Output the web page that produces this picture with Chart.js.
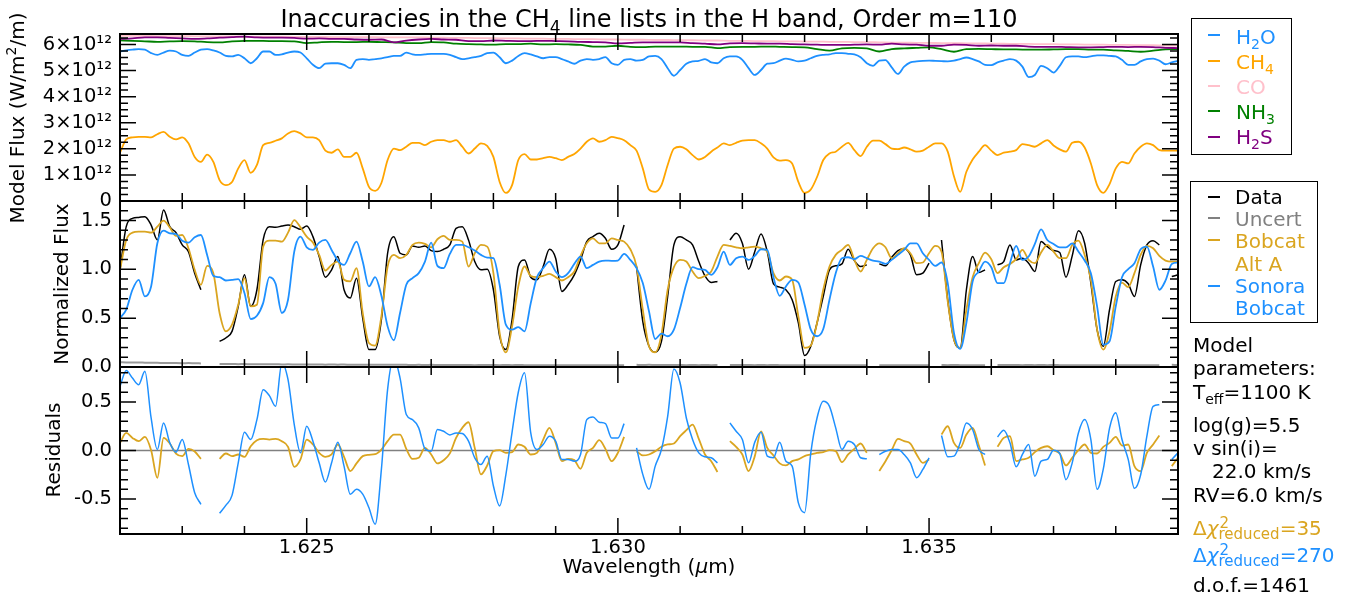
<!DOCTYPE html>
<html>
<head>
<meta charset="utf-8">
<title>CH4 line lists, H band, order 110</title>
<script src="https://cdn.jsdelivr.net/npm/chart.js@4.4.1/dist/chart.umd.min.js"></script>
<style>
  body { margin: 0; width: 1347px; height: 598px; position: relative; overflow: hidden; background: #fff;
         font-family: 'DejaVu Sans', sans-serif; color: #000; }
  canvas { position: absolute; left: 0; }
  .txt { position: absolute; font-size: 20px; line-height: 24px; white-space: nowrap; }
  .sb { position: relative; font-size: 14px; top: 5px; }
  .sp { position: relative; font-size: 14px; top: -9px; }
  .stk { position: relative; display: inline-block; }
  .stk .up { position: absolute; left: 1px; top: -5px; font-size: 15px; }
  .stk .lo { position: relative; top: 4px; font-size: 15px; }
  .box { position: absolute; border: 1.5px solid #000; box-sizing: border-box; }
  .dash { position: absolute; left: 1208px; width: 12px; height: 2px; }
  .ytitle { position: absolute; width: 300px; text-align: center; font-size: 20px; line-height: 24px;
            white-space: nowrap; transform: rotate(-90deg); }
</style>
</head>
<body>
<canvas id="fluxChart" width="1347" height="207" style="top:14px"></canvas>
<canvas id="normChart" width="1347" height="206" style="top:181px"></canvas>
<canvas id="residChart" width="1347" height="251" style="top:347px"></canvas>

<div class="txt" style="left:120px; width:1058px; text-align:center; top:5px; font-size:24px; line-height:28px">Inaccuracies in the CH<span class="sb" style="font-size:17px; top:6px">4</span> line lists in the H band, Order m=110</div>

<div class="ytitle" style="left:-132px; top:105px">Model Flux (W/m<span class="sp" style="top:-8px">2</span>/m)</div>
<div class="ytitle" style="left:-89px; top:272px">Normalized Flux</div>
<div class="ytitle" style="left:-97px; top:438px">Residuals</div>
<div class="txt" style="left:120px; width:1058px; text-align:center; top:554px">Wavelength (<i>μ</i>m)</div>

<!-- molecule legend -->
<div class="box" style="left:1191px; top:18px; width:101px; height:137px"></div>
<div class="dash" style="top:34px; background:#1E90FF"></div>
<div class="dash" style="top:60px; background:#FFA500"></div>
<div class="dash" style="top:85px; background:#FFC0CB"></div>
<div class="dash" style="top:110px; background:#008000"></div>
<div class="dash" style="top:136px; background:#800080"></div>
<div class="txt" style="left:1236px; top:25px; color:#1E90FF">H<span class="sb">2</span>O</div>
<div class="txt" style="left:1236px; top:50px; color:#FFA500">CH<span class="sb">4</span></div>
<div class="txt" style="left:1236px; top:75px; color:#FFC0CB">CO</div>
<div class="txt" style="left:1236px; top:100px; color:#008000">NH<span class="sb">3</span></div>
<div class="txt" style="left:1236px; top:125px; color:#800080">H<span class="sb">2</span>S</div>

<!-- model legend -->
<div class="box" style="left:1190px; top:181px; width:128px; height:142px"></div>
<div class="dash" style="top:196px; background:#000"></div>
<div class="dash" style="top:217px; background:#808080"></div>
<div class="dash" style="top:239px; background:#DAA520"></div>
<div class="dash" style="top:285px; background:#1E90FF"></div>
<div class="txt" style="left:1235px; top:185px">Data</div>
<div class="txt" style="left:1235px; top:207px; color:#808080">Uncert</div>
<div class="txt" style="left:1235px; top:229px; color:#DAA520">Bobcat</div>
<div class="txt" style="left:1235px; top:252px; color:#DAA520">Alt A</div>
<div class="txt" style="left:1235px; top:274px; color:#1E90FF">Sonora</div>
<div class="txt" style="left:1235px; top:296px; color:#1E90FF">Bobcat</div>

<!-- fit parameters -->
<div class="txt" style="left:1193px; top:333px">Model</div>
<div class="txt" style="left:1193px; top:356px">parameters:</div>
<div class="txt" style="left:1193px; top:380px">T<span class="sb">eff</span>=1100 K</div>
<div class="txt" style="left:1193px; top:413px">log(g)=5.5</div>
<div class="txt" style="left:1193px; top:436px">v sin(i)=</div>
<div class="txt" style="left:1212px; top:459px">22.0 km/s</div>
<div class="txt" style="left:1193px; top:483px">RV=6.0 km/s</div>
<div class="txt" style="left:1193px; top:516px; color:#DAA520">Δ<i>χ</i><span class="stk"><span class="up">2</span><span class="lo">reduced</span></span>=35</div>
<div class="txt" style="left:1193px; top:543px; color:#1E90FF">Δ<i>χ</i><span class="stk"><span class="up">2</span><span class="lo">reduced</span></span>=270</div>
<div class="txt" style="left:1193px; top:573px">d.o.f.=1461</div>

<script>
// wavelength grid (um) for the spectra and residuals
const wave = [
  1.6220, 1.6221, 1.6222, 1.6223, 1.6224, 1.6225, 1.6226, 1.6227, 1.6228, 1.6229,
  1.6230, 1.6231, 1.6232, 1.6233, 1.6234, 1.6235, 1.6236, 1.6237, 1.6238, 1.6239,
  1.6240, 1.6241, 1.6242, 1.6243, 1.6244, 1.6245, 1.6246, 1.6247, 1.6248, 1.6249,
  1.6250, 1.6251, 1.6252, 1.6253, 1.6254, 1.6255, 1.6256, 1.6257, 1.6258, 1.6259,
  1.6260, 1.6261, 1.6262, 1.6263, 1.6264, 1.6265, 1.6266, 1.6267, 1.6268, 1.6269,
  1.6270, 1.6271, 1.6272, 1.6273, 1.6274, 1.6275, 1.6276, 1.6277, 1.6278, 1.6279,
  1.6280, 1.6281, 1.6282, 1.6283, 1.6284, 1.6285, 1.6286, 1.6287, 1.6288, 1.6289,
  1.6290, 1.6291, 1.6292, 1.6293, 1.6294, 1.6295, 1.6296, 1.6297, 1.6298, 1.6299,
  1.6300, 1.6301, 1.6302, 1.6303, 1.6304, 1.6305, 1.6306, 1.6307, 1.6308, 1.6309,
  1.6310, 1.6311, 1.6312, 1.6313, 1.6314, 1.6315, 1.6316, 1.6317, 1.6318, 1.6319,
  1.6320, 1.6321, 1.6322, 1.6323, 1.6324, 1.6325, 1.6326, 1.6327, 1.6328, 1.6329,
  1.6330, 1.6331, 1.6332, 1.6333, 1.6334, 1.6335, 1.6336, 1.6337, 1.6338, 1.6339,
  1.6340, 1.6341, 1.6342, 1.6343, 1.6344, 1.6345, 1.6346, 1.6347, 1.6348, 1.6349,
  1.6350, 1.6351, 1.6352, 1.6353, 1.6354, 1.6355, 1.6356, 1.6357, 1.6358, 1.6359,
  1.6360, 1.6361, 1.6362, 1.6363, 1.6364, 1.6365, 1.6366, 1.6367, 1.6368, 1.6369,
  1.6370, 1.6371, 1.6372, 1.6373, 1.6374, 1.6375, 1.6376, 1.6377, 1.6378, 1.6379,
  1.6380, 1.6381, 1.6382, 1.6383, 1.6384, 1.6385, 1.6386, 1.6387, 1.6388, 1.6389,
  1.6390
];

// coarser grid for the nearly flat molecules
const waveCoarse = [
  1.6220, 1.6222, 1.6224, 1.6226, 1.6228, 1.6230, 1.6232, 1.6234, 1.6236, 1.6238,
  1.6240, 1.6242, 1.6244, 1.6246, 1.6248, 1.6250, 1.6252, 1.6254, 1.6256, 1.6258,
  1.6260, 1.6262, 1.6264, 1.6266, 1.6268, 1.6270, 1.6272, 1.6274, 1.6276, 1.6278,
  1.6280, 1.6282, 1.6284, 1.6286, 1.6288, 1.6290, 1.6292, 1.6294, 1.6296, 1.6298,
  1.6300, 1.6302, 1.6304, 1.6306, 1.6308, 1.6310, 1.6312, 1.6314, 1.6316, 1.6318,
  1.6320, 1.6322, 1.6324, 1.6326, 1.6328, 1.6330, 1.6332, 1.6334, 1.6336, 1.6338,
  1.6340, 1.6342, 1.6344, 1.6346, 1.6348, 1.6350, 1.6352, 1.6354, 1.6356, 1.6358,
  1.6360, 1.6362, 1.6364, 1.6366, 1.6368, 1.6370, 1.6372, 1.6374, 1.6376, 1.6378,
  1.6380, 1.6382, 1.6384, 1.6386, 1.6388, 1.6390
];

// model flux per molecule, units of 1e12 W/m^2/m
const h2oFlux = [
  5.73, 5.77, 5.80, 5.82, 5.80, 5.67, 5.60, 5.69, 5.76, 5.73,
  5.60, 5.56, 5.69, 5.80, 5.82, 5.77, 5.69, 5.56, 5.54, 5.60,
  5.47, 5.28, 5.47, 5.73, 5.73, 5.60, 5.62, 5.69, 5.73, 5.69,
  5.47, 5.22, 5.09, 5.26, 5.28, 5.28, 5.22, 5.09, 5.41, 5.44,
  5.41, 5.44, 5.47, 5.51, 5.56, 5.56, 5.69, 5.62, 5.60, 5.62,
  5.64, 5.64, 5.64, 5.60, 5.51, 5.44, 5.47, 5.51, 5.56, 5.67,
  5.69, 5.51, 5.28, 5.38, 5.56, 5.67, 5.62, 5.54, 5.47, 5.51,
  5.51, 5.44, 5.35, 5.26, 5.38, 5.44, 5.41, 5.44, 5.51, 5.28,
  5.22, 5.41, 5.44, 5.38, 5.41, 5.54, 5.56, 5.44, 5.09, 4.80,
  5.02, 5.26, 5.35, 5.37, 5.44, 5.31, 5.28, 5.47, 5.54, 5.54,
  5.41, 5.09, 4.83, 5.02, 5.26, 5.28, 5.38, 5.46, 5.41, 5.35,
  5.38, 5.47, 5.56, 5.60, 5.62, 5.67, 5.67, 5.64, 5.62, 5.51,
  5.28, 5.18, 5.38, 5.40, 5.12, 4.87, 5.15, 5.31, 5.35, 5.37,
  5.38, 5.37, 5.36, 5.35, 5.38, 5.44, 5.50, 5.44, 5.35, 5.22,
  5.21, 5.31, 5.38, 5.44, 5.38, 5.15, 4.75, 4.83, 5.18, 5.09,
  4.92, 5.18, 5.51, 5.54, 5.54, 5.51, 5.54, 5.58, 5.58, 5.56,
  5.54, 5.41, 5.22, 5.22, 5.35, 5.44, 5.46, 5.38, 5.24, 5.31,
  5.37
];
const ch4Flux = [
  1.85, 2.36, 2.44, 2.46, 2.46, 2.44, 2.56, 2.65, 2.46, 2.36,
  2.44, 2.21, 1.69, 1.50, 1.78, 1.50, 0.80, 0.61, 0.73, 1.25,
  1.57, 1.08, 1.38, 2.14, 2.23, 2.31, 2.40, 2.59, 2.68, 2.59,
  2.44, 2.44, 2.33, 1.93, 1.85, 1.98, 1.69, 1.69, 1.85, 1.25,
  0.54, 0.39, 0.69, 1.57, 2.01, 1.95, 2.08, 2.23, 2.23, 2.14,
  2.27, 2.33, 2.33, 2.27, 2.33, 2.08, 1.82, 2.01, 2.21, 2.11,
  1.69, 0.73, 0.31, 0.61, 1.57, 1.80, 1.59, 1.59, 1.64, 1.69,
  1.64, 1.57, 1.69, 1.80, 2.01, 2.27, 2.40, 2.27, 2.33, 2.46,
  2.41, 2.33, 2.14, 1.93, 1.25, 0.44, 0.35, 0.61, 1.38, 2.01,
  2.08, 1.98, 1.76, 1.59, 1.69, 1.89, 2.05, 2.21, 2.14, 2.23,
  2.31, 2.33, 2.33, 2.21, 2.01, 1.67, 1.55, 1.57, 1.44, 0.73,
  0.31, 0.44, 0.92, 1.57, 1.82, 1.89, 2.08, 2.23, 1.95, 1.72,
  2.08, 2.31, 2.31, 2.18, 2.01, 1.99, 2.05, 1.98, 1.89, 1.93,
  2.08, 2.21, 2.21, 1.89, 0.95, 0.35, 1.12, 1.59, 1.89, 2.14,
  1.93, 1.76, 1.85, 1.89, 1.95, 2.18, 2.14, 2.08, 2.21, 2.33,
  2.13, 1.98, 1.89, 2.23, 2.27, 2.05, 1.44, 0.61, 0.31, 0.65,
  1.25, 1.50, 1.44, 1.82, 2.08, 2.21, 2.14, 1.95, 1.93, 1.93,
  1.93
];
const coFlux = [
  6.33, 6.33, 6.33, 6.32, 6.32, 6.32, 6.31, 6.31, 6.31, 6.31,
  6.30, 6.30, 6.30, 6.30, 6.29, 6.29, 6.29, 6.28, 6.28, 6.28,
  6.28, 6.27, 6.27, 6.27, 6.27, 6.26, 6.26, 6.25, 6.25, 6.24,
  6.24, 6.23, 6.23, 6.22, 6.22, 6.21, 6.21, 6.20, 6.20, 6.19,
  6.19, 6.18, 6.18, 6.17, 6.17, 6.16, 6.16, 6.15, 6.15, 6.14,
  6.14, 6.13, 6.13, 6.12, 6.12, 6.11, 6.11, 6.10, 6.10, 6.09,
  6.09, 6.08, 6.07, 6.07, 6.06, 6.06, 6.05, 6.05, 6.04, 6.04,
  6.03, 6.03, 6.02, 6.02, 6.01, 6.01, 6.00, 6.00, 5.99, 5.99,
  5.98, 5.98, 5.97, 5.97, 5.96, 5.96
];
const nh3Flux = [
  6.155, 6.14, 6.12, 6.10, 6.12, 6.13, 6.12, 6.09, 6.08, 6.12,
  6.14, 6.14, 6.13, 6.13, 6.12, 6.05, 6.08, 6.10, 6.09, 6.09,
  6.10, 6.09, 6.08, 6.05, 6.05, 6.09, 6.08, 6.03, 6.01, 6.00,
  5.99, 6.01, 6.01, 6.03, 6.00, 6.01, 6.00, 5.98, 5.92, 5.92,
  5.95, 5.91, 5.90, 5.92, 5.92, 5.92, 5.91, 5.91, 5.86, 5.90,
  5.91, 5.91, 5.92, 5.91, 5.90, 5.89, 5.82, 5.76, 5.85, 5.87,
  5.85, 5.73, 5.82, 5.85, 5.87, 5.89, 5.82, 5.72, 5.82, 5.83,
  5.82, 5.81, 5.81, 5.80, 5.80, 5.81, 5.82, 5.82, 5.80, 5.80,
  5.77, 5.75, 5.72, 5.76, 5.81, 5.82
];
const h2sFlux = [
  6.21, 6.23, 6.27, 6.27, 6.25, 6.23, 6.21, 6.23, 6.26, 6.28,
  6.30, 6.27, 6.26, 6.26, 6.25, 6.22, 6.23, 6.21, 6.21, 6.19,
  6.18, 6.19, 6.08, 6.15, 6.19, 6.21, 6.19, 6.18, 6.13, 6.13,
  6.15, 6.14, 6.13, 6.13, 6.14, 6.13, 6.12, 6.10, 6.09, 6.08,
  6.04, 6.06, 6.08, 6.08, 6.08, 6.08, 6.05, 6.03, 6.00, 6.04,
  6.05, 6.04, 6.03, 6.03, 6.01, 6.00, 5.99, 5.98, 5.98, 5.99,
  6.00, 5.99, 6.03, 6.00, 5.99, 5.95, 5.95, 5.99, 5.98, 5.95,
  5.96, 5.95, 5.95, 5.92, 5.91, 5.91, 5.90, 5.89, 5.89, 5.90,
  5.91, 5.90, 5.91, 5.90, 5.87, 5.86
];

// normalized spectra
const observed = [
  0.995, 1.437, 1.522, 1.532, 1.539, 1.454, 1.301, 1.607, 1.437, 1.376,
  1.250, 1.182, 0.961, 0.791, null, null, 0.263, 0.297, 0.365, 0.621,
  0.944, 0.621, 0.791, 1.301, 1.437, 1.430, 1.444, 1.454, 1.437, 1.410,
  1.444, 1.335, 1.131, 0.920, 0.995, 1.131, 0.791, 0.706, 0.910, 0.501,
  0.178, 0.178, 0.485, 1.165, 1.335, 1.165, 1.148, 1.240, 1.226, 1.240,
  1.192, 1.182, 1.206, 1.250, 1.420, 1.437, 1.301, 1.080, 0.995, 1.002,
  0.791, 0.315, 0.178, 0.485, 1.029, 1.097, 0.920, 0.893, 1.029, 1.206,
  1.114, 0.774, 0.842, 0.944, 1.097, 1.284, 1.335, 1.369, 1.318, 1.206,
  1.250, 1.454, null, 1.029, 0.467, 0.213, 0.151, 0.263, 0.723, 1.250,
  1.335, 1.301, 1.250, 1.080, 0.933, 0.866, 0.876, null, 1.301, 1.369,
  1.267, 1.002, 1.182, 1.362, 1.182, 0.852, 0.818, 0.791, 0.689, 0.451,
  0.117, 0.213, 0.451, 0.723, 0.995, 1.036, 1.056, 1.206, 1.090, 1.029,
  1.046, null, 1.056, 1.036, 1.124, 1.192, 1.212, 1.148, 0.944, 0.961,
  1.063, null, 1.301, 0.689, 0.281, 0.195, 0.791, 1.131, 0.967, 0.995,
  null, 1.046, 1.080, 1.250, 1.097, 1.114, 1.063, 0.978, 1.284, 1.233,
  1.192, 1.172, 0.920, 1.138, 1.396, 1.267, 0.859, 0.382, 0.213, 0.587,
  0.876, 0.893, 0.852, 0.723, 1.046, 1.250, 1.294, 1.250, null, 0.927,
  0.944
];
const uncert = [
  0.048, 0.047, 0.045, 0.046, 0.044, 0.043, 0.043, 0.041, 0.042, 0.040,
  0.039, 0.040, 0.038, 0.037, null, null, 0.031, 0.030, 0.031, 0.029,
  0.030, 0.028, 0.029, 0.028, 0.027, 0.028, 0.026, 0.027, 0.026, 0.025,
  0.026, 0.025, 0.026, 0.024, 0.025, 0.024, 0.025, 0.023, 0.024, 0.023,
  0.024, 0.023, 0.022, 0.023, 0.022, 0.023, 0.022, 0.021, 0.022, 0.021,
  0.022, 0.021, 0.020, 0.021, 0.020, 0.021, 0.020, 0.019, 0.020, 0.021,
  0.020, 0.019, 0.020, 0.019, 0.020, 0.019, 0.018, 0.019, 0.018, 0.019,
  0.018, 0.019, 0.018, 0.017, 0.018, 0.017, 0.018, 0.017, 0.018, 0.017,
  0.018, 0.017, null, 0.022, 0.021, 0.022, 0.020, 0.021, 0.020, 0.021,
  0.020, 0.019, 0.020, 0.019, 0.020, 0.019, 0.020, null, 0.021, 0.020,
  0.021, 0.020, 0.019, 0.020, 0.019, 0.020, 0.019, 0.018, 0.019, 0.018,
  0.019, 0.018, 0.019, 0.018, 0.017, 0.018, 0.017, 0.018, 0.017, 0.018,
  0.017, null, 0.019, 0.018, 0.019, 0.018, 0.017, 0.018, 0.017, 0.018,
  0.017, null, 0.020, 0.019, 0.020, 0.019, 0.018, 0.019, 0.018, 0.019,
  null, 0.021, 0.020, 0.021, 0.020, 0.019, 0.020, 0.019, 0.020, 0.019,
  0.020, 0.019, 0.018, 0.019, 0.018, 0.019, 0.018, 0.017, 0.018, 0.017,
  0.018, 0.017, 0.018, 0.017, 0.018, 0.017, 0.018, 0.017, null, 0.022,
  0.021
];
const bobcatAltA = [
  0.995, 1.301, 1.376, 1.386, 1.386, 1.376, 1.437, 1.498, 1.430, 1.342,
  1.352, 1.216, 0.995, 0.842, 1.035, 0.961, 0.553, 0.365, 0.433, 0.638,
  0.910, 0.621, 0.638, 1.233, 1.294, 1.294, 1.284, 1.376, 1.505, 1.430,
  1.335, 1.274, 1.148, 0.988, 1.046, 1.080, 0.893, 0.876, 1.012, 0.553,
  0.246, 0.219, 0.518, 1.029, 1.148, 1.114, 1.148, 1.250, 1.274, 1.260,
  1.226, 1.308, 1.342, 1.301, 1.301, 1.284, 1.029, 1.165, 1.250, 1.233,
  0.961, 0.349, 0.150, 0.416, 0.825, 1.029, 0.933, 0.920, 0.933, 0.954,
  0.920, 0.886, 0.920, 0.978, 1.138, 1.267, 1.318, 1.267, 1.267, 1.318,
  1.301, 1.284, 1.206, 1.029, 0.587, 0.213, 0.151, 0.331, 0.791, 1.022,
  1.097, 1.080, 0.978, 0.910, 0.933, 0.978, 1.131, 1.250, 1.240, 1.226,
  1.216, 1.226, 1.233, 1.216, 1.182, 0.961, 0.886, 0.927, 0.893, 0.518,
  0.195, 0.219, 0.451, 0.791, 1.029, 1.148, 1.199, 1.250, 1.097, 0.978,
  1.097, 1.216, 1.267, 1.226, 1.114, 1.165, 1.216, 1.165, 1.063, 1.070,
  1.165, 1.240, 1.182, 0.672, 0.281, 0.195, 0.587, 0.920, 1.063, 1.172,
  1.104, 0.961, 1.022, 1.056, 1.104, 1.199, 1.097, 1.063, 1.172, 1.250,
  1.182, 1.114, 1.114, 1.250, 1.294, 1.148, 0.893, 0.382, 0.178, 0.365,
  0.723, 0.865, 0.818, 0.961, 1.148, 1.240, 1.216, 1.138, 1.090, 1.080,
  1.080
];
const sonoraBobcat = [
  0.501, 0.587, 0.791, 0.893, 0.723, 0.825, 1.267, 1.396, 1.369, 1.362,
  1.294, 1.274, 1.328, 1.352, 1.148, 0.933, 0.920, 0.886, 0.893, 0.899,
  0.757, 0.491, 0.525, 0.654, 0.920, 0.852, 0.553, 0.689, 1.182, 1.335,
  1.226, 1.199, 1.274, 1.301, 1.199, 1.090, 1.046, 1.165, 1.284, 1.080,
  0.825, 0.920, 0.729, 0.416, 0.274, 0.553, 0.842, 0.910, 0.961, 1.080,
  1.274, 1.036, 1.012, 1.158, 1.250, 1.250, 1.226, 1.192, 1.148, 1.121,
  1.114, 0.842, 0.433, 0.382, 0.409, 0.365, 0.654, 0.920, 1.012, 1.080,
  0.978, 0.920, 0.961, 1.056, 1.131, 1.012, 1.046, 1.080, 1.090, 1.087,
  1.090, 1.158, 1.097, 1.012, 0.859, 0.570, 0.287, 0.342, 0.315, 0.382,
  0.604, 0.852, 1.022, 1.002, 0.995, 0.944, 1.022, 1.182, 1.046, 1.114,
  1.131, 1.097, 1.138, 1.206, 1.199, 0.920, 0.729, 0.825, 0.893, 0.866,
  0.638, 0.382, 0.315, 0.389, 0.689, 0.961, 1.114, 1.124, 1.104, 1.138,
  1.114, 1.090, 1.080, 1.056, 1.097, 1.148, 1.199, 1.267, 1.267, 1.165,
  1.097, 1.036, 1.070, 0.859, 0.349, 0.185, 0.451, 0.876, 0.978, 1.080,
  1.022, 0.859, 0.859, 1.063, 1.240, 1.097, 1.131, 1.260, 1.409, 1.301,
  1.260, 1.226, 1.226, 1.267, 1.182, 1.090, 0.961, 0.621, 0.229, 0.263,
  0.621, 0.920, 1.002, 1.063, 1.206, 1.233, 1.029, 0.791, 0.886, 1.056,
  1.070
];

// data minus model
const residAltA = [
  0.079, 0.181, 0.130, 0.096, 0.140, 0.003, -0.281, 0.130, 0.072, -0.031,
  -0.058, 0.017, -0.010, -0.086, null, null, -0.086, -0.031, -0.058, -0.041,
  -0.065, 0.044, 0.106, 0.120, 0.113, 0.120, 0.096, 0.038, -0.168, -0.092,
  0.113, 0.062, -0.024, -0.065, -0.041, 0.062, -0.065, -0.212, -0.133, -0.058,
  -0.044, -0.038, 0.010, 0.096, 0.164, 0.164, 0.017, -0.086, -0.075, 0.027,
  -0.041, -0.133, -0.100, -0.030, 0.130, 0.233, 0.291, 0.027, -0.246, -0.154,
  -0.007, 0.003, -0.024, -0.017, 0.062, 0.038, -0.041, -0.024, 0.113, 0.233,
  0.079, -0.110, -0.086, -0.099, -0.188, -0.024, 0.027, 0.106, 0.017, -0.110,
  -0.024, 0.140, null, -0.007, -0.051, -0.041, -0.007, 0.038, 0.062, 0.072,
  0.147, 0.209, 0.267, 0.120, -0.041, -0.110, -0.222, null, 0.096, 0.038,
  -0.041, -0.212, -0.058, 0.198, 0.027, -0.051, -0.133, -0.154, -0.110, -0.092,
  -0.058, -0.041, -0.024, -0.017, 0.003, -0.007, -0.120, -0.041, 0.017, 0.072,
  -0.024, null, -0.212, -0.110, 0.003, 0.120, 0.096, 0.072, -0.041, -0.127,
  -0.092, null, 0.164, 0.250, 0.079, 0.027, 0.164, 0.233, 0.051, -0.154,
  null, 0.038, 0.130, 0.147, -0.110, -0.092, -0.075, -0.017, 0.027, 0.044,
  0.003, -0.031, -0.154, -0.075, 0.003, 0.062, -0.024, -0.031, 0.038, 0.079,
  0.140, 0.051, 0.062, -0.161, -0.212, -0.024, 0.062, 0.154, null, -0.161,
  -0.075
];
const residSonora = [
  0.660, 0.825, 0.746, 0.678, 0.815, 0.335, 0.010, 0.284, 0.079, -0.017,
  0.113, -0.144, -0.435, -0.554, null, null, -0.647, -0.565, -0.462, -0.127,
  0.188, 0.113, 0.318, 0.626, 0.565, 0.455, 0.900, 0.729, 0.267, -0.024,
  0.250, 0.096, -0.127, -0.325, -0.127, 0.086, -0.161, -0.450, -0.400, -0.450,
  -0.590, -0.760, -0.195, 0.630, 0.950, 0.746, 0.370, 0.318, 0.233, 0.017,
  -0.007, 0.216, 0.198, 0.160, 0.181, 0.175, 0.096, -0.075, -0.144, -0.058,
  -0.366, -0.572, -0.250, 0.190, 0.600, 0.800, 0.181, 0.010, 0.062, 0.147,
  0.096, -0.092, -0.092, -0.110, -0.041, 0.318, 0.346, 0.291, 0.277, 0.130,
  0.130, 0.277, null, 0.027, -0.246, -0.400, -0.161, 0.010, 0.352, 0.840,
  0.695, 0.335, 0.113, -0.024, -0.065, -0.075, -0.127, null, 0.284, 0.198,
  0.113, -0.127, 0.086, 0.188, -0.058, -0.075, 0.086, -0.110, -0.161, -0.540,
  -0.640, -0.024, 0.335, 0.507, 0.455, 0.233, 0.010, 0.096, 0.062, -0.075,
  -0.086, null, -0.041, -0.007, 0.010, 0.010, -0.041, -0.127, -0.280, -0.195,
  -0.075, null, 0.154, -0.065, -0.058, 0.079, 0.284, 0.216, 0.010, -0.041,
  null, 0.140, 0.209, 0.079, -0.168, -0.041, 0.062, -0.264, -0.110, -0.092,
  0.003, -0.031, -0.300, -0.127, 0.181, 0.318, 0.113, -0.400, -0.190, 0.230,
  0.390, 0.113, -0.092, -0.390, -0.250, 0.147, 0.455, 0.472, null, -0.092,
  -0.024
];
const zeroWave = [1.622, 1.639];
const zeroLevel = [0, 0];

// axis ticks
const waveLabels = [1.625, 1.630, 1.635];
const waveMinor = [1.622, 1.623, 1.624, 1.626, 1.627, 1.628, 1.629, 1.631, 1.632, 1.633, 1.634, 1.636, 1.637, 1.638, 1.639];
const fluxTicks = [0, 1, 2, 3, 4, 5, 6];
const normTicks = [0, 0.5, 1.0, 1.5];
const residTicks = [-0.5, 0, 0.5];

Chart.defaults.font.family = "'DejaVu Sans', sans-serif";
const tickFont = { size: 19.5 };

function points(xs, ys) {
  return xs.map((x, i) => ({ x: x, y: ys[i] }));
}

function series(label, xs, ys, color, width) {
  return {
    label: label,
    data: points(xs, ys),
    borderColor: color,
    borderWidth: width,
    pointRadius: 0,
    fill: false,
    spanGaps: false,
    cubicInterpolationMode: 'monotone'
  };
}

function steps(from, to, step) {
  const out = [];
  for (let v = from; v <= to + 1e-9; v += step) out.push(v);
  return out;
}

// box around each panel with inward ticks on all four sides
function frameTicks(yMajor, yMinor) {
  return {
    id: 'frameTicks',
    afterDatasetsDraw(chart) {
      const { ctx, chartArea: a, scales: { x, y } } = chart;
      ctx.save();
      ctx.strokeStyle = '#000';
      ctx.lineWidth = 1.5;
      ctx.beginPath();
      const xTick = (v, len) => {
        const px = x.getPixelForValue(v);
        ctx.moveTo(px, a.top); ctx.lineTo(px, a.top + len);
        ctx.moveTo(px, a.bottom); ctx.lineTo(px, a.bottom - len);
      };
      const yTick = (v, len) => {
        const py = y.getPixelForValue(v);
        ctx.moveTo(a.left, py); ctx.lineTo(a.left + len, py);
        ctx.moveTo(a.right, py); ctx.lineTo(a.right - len, py);
      };
      waveLabels.forEach(v => xTick(v, 16));
      waveMinor.forEach(v => xTick(v, 8));
      yMajor.forEach(v => yTick(v, 16));
      yMinor.forEach(v => yTick(v, 8));
      ctx.stroke();
      ctx.lineWidth = 2;
      ctx.strokeRect(a.left, a.top, a.right - a.left, a.bottom - a.top);
      ctx.restore();
    }
  };
}

function panelOptions(yMin, yMax, yTicks, yLabel, showX) {
  const xScale = {
    type: 'linear', min: 1.622, max: 1.639, display: showX,
    grid: { display: false, drawTicks: false }, border: { display: false },
    afterBuildTicks: s => { s.ticks = waveLabels.map(v => ({ value: v })); },
    ticks: { padding: 2, color: '#000', font: tickFont, maxRotation: 0, autoSkip: false,
             callback: v => v.toFixed(3) }
  };
  if (showX) xScale.afterFit = s => { s.height = 64; };
  return {
    responsive: false,
    animation: false,
    events: [],
    layout: { padding: { top: 20, bottom: showX ? 0 : 20, left: 0, right: 169 } },
    plugins: { legend: { display: false }, tooltip: { enabled: false } },
    scales: {
      x: xScale,
      y: {
        type: 'linear', min: yMin, max: yMax,
        grid: { display: false, drawTicks: false }, border: { display: false },
        afterBuildTicks: s => { s.ticks = yTicks.map(v => ({ value: v })); },
        afterFit: s => { s.width = 120; },
        ticks: { padding: 8, color: '#000', font: tickFont, callback: yLabel }
      }
    }
  };
}

// Model flux of each molecule
new Chart(document.getElementById('fluxChart'), {
  type: 'line',
  data: {
    datasets: [
      series('H2S', waveCoarse, h2sFlux, '#800080', 1.8),
      series('NH3', waveCoarse, nh3Flux, '#008000', 1.8),
      series('CO', waveCoarse, coFlux, '#FFC0CB', 1.8),
      series('CH4', wave, ch4Flux, '#FFA500', 1.8),
      series('H2O', wave, h2oFlux, '#1E90FF', 1.8)
    ]
  },
  options: panelOptions(0, 6.4, fluxTicks, v => v === 0 ? '0' : v + '×10¹²', false),
  plugins: [frameTicks(fluxTicks, steps(0, 6.25, 0.25))]
});

// Normalized data against the two model grids
new Chart(document.getElementById('normChart'), {
  type: 'line',
  data: {
    datasets: [
      series('Sonora Bobcat', wave, sonoraBobcat, '#1E90FF', 1.8),
      series('Bobcat Alt A', wave, bobcatAltA, '#DAA520', 1.8),
      series('Uncert', wave, uncert, '#999999', 2),
      series('Data', wave, observed, '#000000', 1.5)
    ]
  },
  options: panelOptions(0, 1.7, normTicks, v => v.toFixed(1), false),
  plugins: [frameTicks(normTicks, steps(0, 1.7, 0.1))]
});

// Residuals
new Chart(document.getElementById('residChart'), {
  type: 'line',
  data: {
    datasets: [
      series('Sonora Bobcat', wave, residSonora, '#1E90FF', 1.5),
      series('Bobcat Alt A', wave, residAltA, '#DAA520', 1.8),
      series('zero', zeroWave, zeroLevel, '#808080', 1.5)
    ]
  },
  options: panelOptions(-0.86, 0.86, residTicks, v => v.toFixed(1), true),
  plugins: [frameTicks(residTicks, steps(-0.8, 0.8, 0.1))]
});
</script>
</body>
</html>
